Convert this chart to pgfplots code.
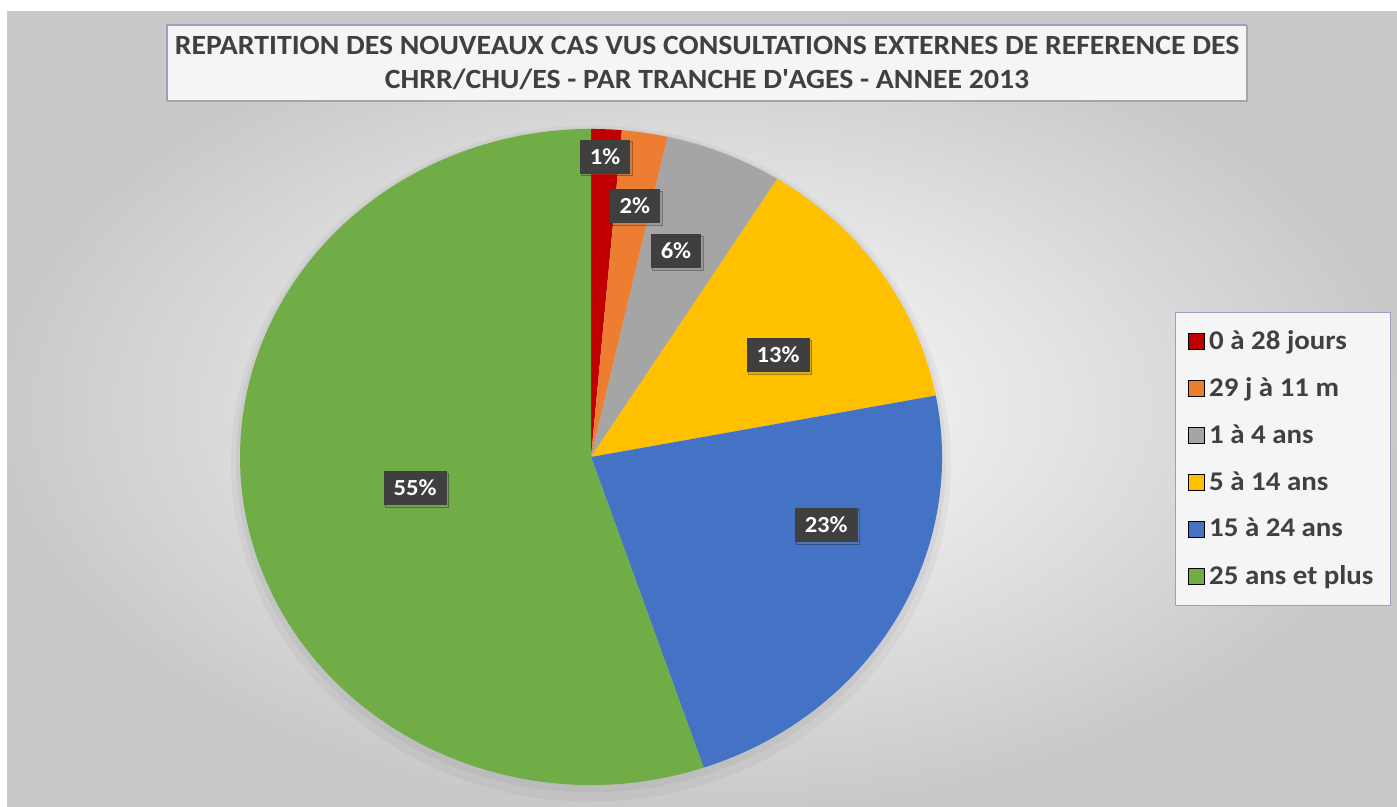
\documentclass[border=0pt]{standalone}
\usepackage{pgfplots}
\pgfplotsset{compat=1.18}
\usetikzlibrary{shadows}
\usepackage{fontspec}
\setmainfont{Carlito}[FakeStretch=1.07]
\definecolor{cRed}{HTML}{C00000}
\definecolor{cOrange}{HTML}{ED7D31}
\definecolor{cGray}{HTML}{A5A5A5}
\definecolor{cYellow}{HTML}{FFC000}
\definecolor{cBlue}{HTML}{4472C4}
\definecolor{cGreen}{HTML}{70AD47}
\definecolor{txt}{HTML}{404040}
\definecolor{lblbg}{HTML}{3F3F3F}
\definecolor{boxline}{HTML}{9AA0C4}
% sector: colour, cumulative start (%), cumulative end (%)
\newcommand{\sector}[3]{%
  \fill[#1] (axis cs:0,0) -- (axis cs:{cos(90-3.6*(#2))},{sin(90-3.6*(#2))})
    arc[start angle={90-3.6*(#2)}, end angle={90-3.6*(#3)}, x radius=175.5pt, y radius=164pt] -- cycle;}
\begin{document}
\begin{tikzpicture}
\path[use as bounding box] (0,0) rectangle (698.5pt,403.5pt);
\fill[white] (0,0) rectangle (698.5pt,403.5pt);
\shade[inner color=white, outer color=gray!42] (3.5pt,0) rectangle (698.5pt,397.5pt);
% title box
\fill[gray!8] (83.5pt,353pt) rectangle (623.5pt,391pt);
\draw[boxline, line width=0.8pt] (83.5pt,353pt) -- (83.5pt,391pt) -- (623.5pt,391pt);
\draw[gray!70, line width=0.8pt] (83.5pt,353pt) -- (623.5pt,353pt) -- (623.5pt,391pt);
\node[text=txt, align=center, font=\fontsize{13.9}{17}\selectfont\bfseries] at (353.5pt,372pt)
  {REPARTITION DES NOUVEAUX CAS VUS CONSULTATIONS EXTERNES DE REFERENCE DES\\CHRR/CHU/ES - PAR TRANCHE D\textquotesingle AGES - ANNEE 2013};
\begin{axis}[
  at={(0,0)}, anchor=south west, scale only axis,
  x=175.5pt, y=164pt,
  xmin=-1.6838, xmax=2.2963, ymin=-1.0671, ymax=1.3933,
  hide axis, clip=false,
  /pgf/number format/assume math mode=true,
  legend image code/.code={\fill[#1] (0pt,-4pt) rectangle (8pt,4pt);},
  legend cell align=left,
  legend style={at={(0.8411,0.6134)}, anchor=north west, draw=boxline, fill=gray!8,
    font=\fontsize{13.5}{16}\selectfont\bfseries, text=txt, row sep=8.6pt,
    inner xsep=6.5pt, inner ysep=7pt},
]
% shadow
\fill[black, opacity=0.035] (axis cs:0,-0.02) ellipse[x radius=180pt, y radius=169pt];
\fill[black, opacity=0.04] (axis cs:0,-0.01) ellipse[x radius=177.5pt, y radius=166pt];
% values: 1.4, 2.1, 5.4, 13.1, 22.8, 55.2
\sector{cRed}{0}{1.4}
\sector{cOrange}{1.4}{3.5}
\sector{cGray}{3.5}{8.9}
\sector{cYellow}{8.9}{22.0}
\sector{cBlue}{22.0}{44.8}
\sector{cGreen}{44.8}{100}
\addplot[forget plot, only marks, mark=none, point meta=explicit,
  nodes near coords={\pgfmathprintnumber{\pgfplotspointmeta}\%},
  nodes near coords align=center,
  every node near coord/.style={anchor=center, fill=lblbg, text=white,
    font=\fontsize{11.5}{13}\selectfont\bfseries, inner xsep=5pt, inner ysep=4.5pt,
    drop shadow={opacity=0.3, shadow xshift=1pt, shadow yshift=-1pt}}]
  table[x=x, y=y, meta=p] {
x y p
0.040 0.915 1
0.125 0.765 2
0.242 0.628 6
0.533 0.311 13
0.670 -0.207 23
-0.501 -0.095 55
};
\addlegendimage{fill=cRed}\addlegendentry{0 à 28 jours}
\addlegendimage{fill=cOrange}\addlegendentry{29 j à 11 m}
\addlegendimage{fill=cGray}\addlegendentry{1 à 4 ans}
\addlegendimage{fill=cYellow}\addlegendentry{5 à 14 ans}
\addlegendimage{fill=cBlue}\addlegendentry{15 à 24 ans}
\addlegendimage{fill=cGreen}\addlegendentry{25 ans et plus}
\end{axis}
\end{tikzpicture}
\end{document}
